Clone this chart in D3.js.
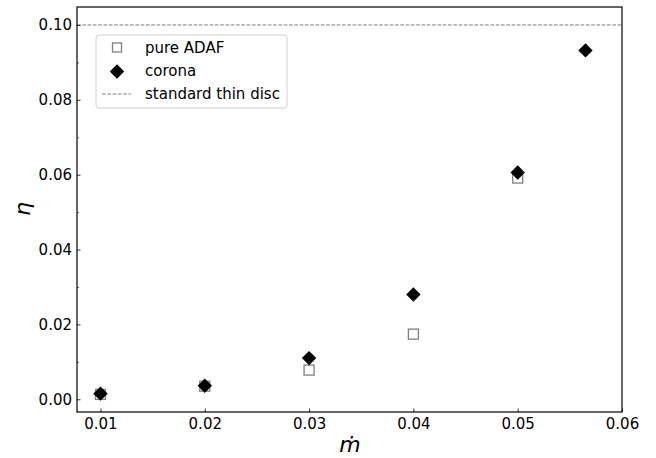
<!DOCTYPE html>
<html><head><meta charset="utf-8">
<script src="https://cdn.jsdelivr.net/npm/d3@7"></script>
<style>body{margin:0;background:#fff;} text{font-family:"DejaVu Sans",sans-serif;}</style>
</head><body>
<svg id="c" width="656" height="458"></svg>
<script>
const xTicks = [0.01, 0.02, 0.03, 0.04, 0.05, 0.06];
const yTicks = [0.00, 0.02, 0.04, 0.06, 0.08, 0.10];
const yMinor = [0.01, 0.03, 0.05, 0.07, 0.09];
const adafX = [0.01, 0.02, 0.03, 0.04, 0.05];
const adafY = [0.0013, 0.0035, 0.0078, 0.0174, 0.0591];
const coronaX = [0.01, 0.02, 0.03, 0.04, 0.05, 0.0565];
const coronaY = [0.0015, 0.0036, 0.011, 0.028, 0.0606, 0.0932];
const thinDisc = 0.1;
const legendLabels = ["pure ADAF", "corona", "standard thin disc"];

const svg = d3.select("#c");
const L = 77, R = 622, T = 7, B = 412;
const x = d3.scaleLinear().domain([0.00775, 0.06]).range([L, R]);
const y = d3.scaleLinear().domain([-0.0034, 0.1048]).range([B, T]);

// thin disc line
svg.append("line").attr("x1", L).attr("x2", R).attr("y1", y(thinDisc)).attr("y2", y(thinDisc))
  .attr("stroke", "#808080").attr("stroke-width", 1).attr("stroke-dasharray", "3.7,1.6");

// axes
const xAxis = d3.axisBottom(x).tickValues(xTicks).tickFormat(d3.format(".2f")).tickSizeInner(-3.5).tickSizeOuter(0).tickPadding(6);
const gx = svg.append("g").attr("transform", `translate(0,${B})`).call(xAxis);
const yAxis = d3.axisLeft(y).tickValues(yTicks).tickFormat(d3.format(".2f")).tickSizeInner(-3.5).tickSizeOuter(0).tickPadding(5);
const gy = svg.append("g").attr("transform", `translate(${L},0)`).call(yAxis);
const yAxisMinor = d3.axisLeft(y).tickValues(yMinor).tickFormat("").tickSizeInner(-2).tickSizeOuter(0);
const gym = svg.append("g").attr("transform", `translate(${L},0)`).call(yAxisMinor);
gym.select(".domain").remove();
[gx, gy].forEach(g => { g.select(".domain").remove(); g.selectAll("text").attr("font-size", 15).attr("fill", "#000").attr("font-family", "DejaVu Sans"); g.selectAll("line").attr("stroke", "#000").attr("stroke-width", 0.8); });
gym.selectAll("line").attr("stroke", "#000").attr("stroke-width", 0.6);

// frame
svg.append("rect").attr("x", L).attr("y", T).attr("width", R - L).attr("height", B - T)
  .attr("fill", "none").attr("stroke", "#000").attr("stroke-width", 1.2);

// data
const sq = 10;
svg.append("g").selectAll("rect").data(adafX.map((d, i) => [d, adafY[i]])).join("rect")
  .attr("x", d => x(d[0]) - sq / 2).attr("y", d => y(d[1]) - sq / 2).attr("width", sq).attr("height", sq)
  .attr("fill", "#fff").attr("stroke", "#808080").attr("stroke-width", 1.3);
const dia = 7.2;
const diamond = (cx, cy) => `M${cx},${cy - dia}L${cx + dia},${cy}L${cx},${cy + dia}L${cx - dia},${cy}Z`;
svg.append("g").selectAll("path").data(coronaX.map((d, i) => [d, coronaY[i]])).join("path")
  .attr("d", d => diamond(x(d[0]), y(d[1]))).attr("fill", "#000");

// labels
svg.append("text").attr("x", 350).attr("y", 452).attr("text-anchor", "middle")
  .attr("font-size", 22).attr("font-style", "italic").text("ṁ");
svg.append("text").attr("transform", "translate(30,209) rotate(-90)").attr("text-anchor", "middle")
  .attr("font-size", 22).attr("font-style", "italic").text("η");

// legend
const lg = svg.append("g");
lg.append("rect").attr("x", 96).attr("y", 35).attr("width", 191).attr("height", 73).attr("rx", 3)
  .attr("fill", "#fff").attr("fill-opacity", 0.8).attr("stroke", "#d0d0d0").attr("stroke-width", 1);
const lsq = 9;
lg.append("rect").attr("x", 117 - lsq / 2).attr("y", 47.5 - lsq / 2).attr("width", lsq).attr("height", lsq)
  .attr("fill", "#fff").attr("stroke", "#808080").attr("stroke-width", 1.3);
lg.append("path").attr("d", diamond(117, 71.5)).attr("fill", "#000");
lg.append("line").attr("x1", 102).attr("x2", 131).attr("y1", 94).attr("y2", 94)
  .attr("stroke", "#808080").attr("stroke-width", 1).attr("stroke-dasharray", "3.7,1.6");
lg.selectAll("text.l").data(legendLabels).join("text").attr("class", "l")
  .attr("x", 145).attr("y", (d, i) => 52.5 + i * 23.3).attr("font-size", 15).text(d => d);
</script>
</body></html>
